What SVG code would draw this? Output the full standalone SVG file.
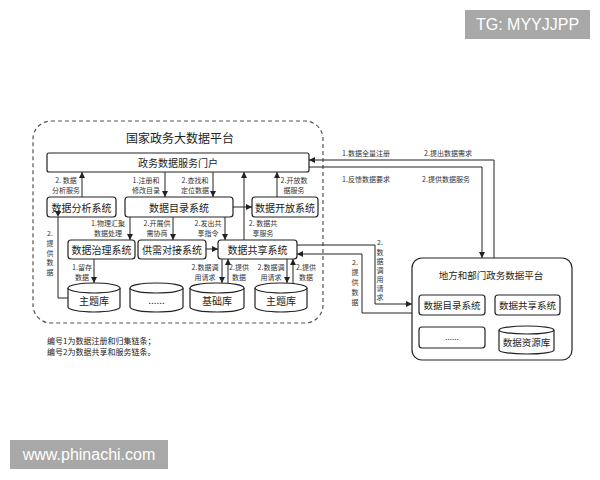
<svg xmlns="http://www.w3.org/2000/svg" width="600" height="480" viewBox="0 0 600 480">
<style>
.box{fill:#fff;stroke:#222;stroke-width:1.2}
.t{font-family:"Noto Sans CJK SC","Noto Sans",sans-serif;fill:#222;text-anchor:middle;dominant-baseline:central}
.bt{font-size:10px}
.lbl{font-size:7px;fill:#333}
.ln{fill:none;stroke:#222;stroke-width:1}
.cyl{fill:#fff;stroke:#222;stroke-width:1.2}
.wm{fill:#a8a8a8}
.wmt{font-family:"Liberation Sans",Arial,sans-serif;font-size:16px;fill:#fff;text-anchor:middle;dominant-baseline:central}
</style>
<defs>
<marker id="ar" markerUnits="userSpaceOnUse" markerWidth="6" markerHeight="6" refX="6" refY="3" orient="auto">
<path d="M0,0 L6,3 L0,6 z" fill="#222"/>
</marker>
</defs>
<rect width="600" height="480" fill="#fff"/>

<g id="national">
<rect x="33" y="121" width="290" height="202" rx="18" fill="none" stroke="#555" stroke-width="1.2" stroke-dasharray="4 3"/>
<text class="t" x="180" y="137" font-size="12">国家政务大数据平台</text>
</g>

<g id="portal"><rect class="box" x="47" y="153" width="262" height="19" rx="2"/><text class="t bt" x="178" y="162.5">政务数据服务门户</text></g>
<g id="analysis"><rect class="box" x="47" y="197" width="69" height="20" rx="3"/><text class="t bt" x="81.5" y="207">数据分析系统</text></g>
<g id="catalog"><rect class="box" x="125" y="197" width="108" height="20" rx="3"/><text class="t bt" x="179" y="207">数据目录系统</text></g>
<g id="open"><rect class="box" x="252" y="197" width="66" height="20" rx="3"/><text class="t bt" x="285" y="207">数据开放系统</text></g>
<g id="govern"><rect class="box" x="68" y="240" width="67" height="19" rx="3"/><text class="t bt" x="101.5" y="249.5">数据治理系统</text></g>
<g id="supply"><rect class="box" x="138" y="240" width="68" height="19" rx="3"/><text class="t bt" x="172" y="249.5">供需对接系统</text></g>
<g id="share"><rect class="box" x="218" y="240" width="79" height="19" rx="3"/><text class="t bt" x="257.5" y="249.5">数据共享系统</text></g>

<g id="db1"><path class="cyl" d="M68,288 V307 A26,5 0 0 0 120,307 V288"/><ellipse class="cyl" cx="94" cy="288" rx="26" ry="5"/><text class="t bt" x="94" y="300">主题库</text></g>
<g id="db2"><path class="cyl" d="M130,288 V307 A26.5,5 0 0 0 183,307 V288"/><ellipse class="cyl" cx="156.5" cy="288" rx="26.5" ry="5"/><text class="t bt" x="156.5" y="299">......</text></g>
<g id="db3"><path class="cyl" d="M190,288 V307 A27,5 0 0 0 244,307 V288"/><ellipse class="cyl" cx="217" cy="288" rx="27" ry="5"/><text class="t bt" x="217" y="300">基础库</text></g>
<g id="db4"><path class="cyl" d="M255,288 V307 A26,5 0 0 0 307,307 V288"/><ellipse class="cyl" cx="281" cy="288" rx="26" ry="5"/><text class="t bt" x="281" y="300">主题库</text></g>

<g id="local">
<rect class="box" x="412" y="258" width="160" height="102" rx="10"/>
<text class="t" x="491" y="275" font-size="9.5">地方和部门政务数据平台</text>
</g>
<g id="lcatalog"><rect class="box" x="419" y="295" width="66" height="20" rx="3"/><text class="t" font-size="9.5" x="452" y="305">数据目录系统</text></g>
<g id="lshare"><rect class="box" x="495" y="295" width="65" height="20" rx="3"/><text class="t" font-size="9.5" x="527.5" y="305">数据共享系统</text></g>
<g id="ldots"><rect class="box" x="419" y="327" width="66" height="21" rx="3"/><text class="t" font-size="8" x="452" y="336">......</text></g>
<g id="lres"><path class="cyl" d="M499,330 V350 A27.5,4 0 0 0 554,350 V330"/><ellipse class="cyl" cx="526.5" cy="330" rx="27.5" ry="4"/><text class="t" font-size="9.5" x="526.5" y="342">数据资源库</text></g>

<g id="connectors">
<path class="ln" d="M58,217 V298 H68" marker-start="url(#ar)"/>
<path class="ln" d="M82,197 V172" marker-end="url(#ar)"/>
<path class="ln" d="M165,172 V197" marker-end="url(#ar)"/>
<path class="ln" d="M213,172 V197" marker-end="url(#ar)"/>
<path class="ln" d="M244,240 V172" marker-end="url(#ar)"/>
<path class="ln" d="M233,207 H252" marker-end="url(#ar)"/>
<path class="ln" d="M277,197 V172" marker-end="url(#ar)"/>
<path class="ln" d="M130,217 V240" marker-end="url(#ar)"/>
<path class="ln" d="M173,217 V240" marker-end="url(#ar)"/>
<path class="ln" d="M225,217 V240" marker-end="url(#ar)"/>
<path class="ln" d="M206,249 H218" marker-end="url(#ar)"/>
<path class="ln" d="M94,259 V283" marker-end="url(#ar)"/>
<path class="ln" d="M222,259 V283" marker-end="url(#ar)"/>
<path class="ln" d="M228,283 V259" marker-end="url(#ar)"/>
<path class="ln" d="M287,259 V283" marker-end="url(#ar)"/>
<path class="ln" d="M293,283 V259" marker-end="url(#ar)"/>
<path class="ln" d="M494,258 V160 H309" marker-end="url(#ar)"/>
<path class="ln" d="M309,167 H482 V258" marker-end="url(#ar)"/>
<path class="ln" d="M297,245 H375 V304 H412" marker-end="url(#ar)"/>
<path class="ln" d="M412,313 H362 V254 H297" marker-end="url(#ar)"/>
</g>

<g id="labels">
<text class="t lbl" x="66" y="180">2. 数据</text><text class="t lbl" x="66" y="190">分析服务</text>
<text class="t lbl" x="146" y="180">1.注册和</text><text class="t lbl" x="146" y="190">修改目录</text>
<text class="t lbl" x="195" y="180">2.查找和</text><text class="t lbl" x="195" y="190">定位数据</text>
<text class="t lbl" x="294" y="180">2.开放数</text><text class="t lbl" x="294" y="190">据服务</text>
<text class="t lbl" x="108" y="223">1.物理汇聚</text><text class="t lbl" x="108" y="233">数据处理</text>
<text class="t lbl" x="157" y="223">2.开展供</text><text class="t lbl" x="157" y="233">需协商</text>
<text class="t lbl" x="208" y="223">2.发出共</text><text class="t lbl" x="208" y="233">享指令</text>
<text class="t lbl" x="263" y="223">2. 数据共</text><text class="t lbl" x="263" y="233">享服务</text>
<text class="t lbl" x="82" y="267">1.留存</text><text class="t lbl" x="82" y="277">数据</text>
<text class="t lbl" x="205" y="267">2.数据调</text><text class="t lbl" x="205" y="277">用请求</text>
<text class="t lbl" x="239" y="267">2.提供</text><text class="t lbl" x="239" y="277">数据</text>
<text class="t lbl" x="271" y="267">2.数据调</text><text class="t lbl" x="271" y="277">用请求</text>
<text class="t lbl" x="306" y="267">2.提供</text><text class="t lbl" x="306" y="277">数据</text>
<text class="t lbl" x="50" y="233">2.</text><text class="t lbl" x="50" y="243">提</text><text class="t lbl" x="50" y="252.5">供</text><text class="t lbl" x="50" y="262">数</text><text class="t lbl" x="50" y="271.5">据</text>
<text class="t lbl" x="366" y="153">1.数据全量注册</text><text class="t lbl" x="448" y="153">2.提出数据需求</text>
<text class="t lbl" x="366" y="179">1.反馈数据要求</text><text class="t lbl" x="446" y="179">2.提供数据服务</text>
<text class="t lbl" x="380" y="242">2.</text><text class="t lbl" x="380" y="252">数</text><text class="t lbl" x="380" y="261">据</text><text class="t lbl" x="380" y="270">调</text><text class="t lbl" x="380" y="279">用</text><text class="t lbl" x="380" y="288">请</text><text class="t lbl" x="380" y="297">求</text>
<text class="t lbl" x="355" y="262">2.</text><text class="t lbl" x="355" y="272">提</text><text class="t lbl" x="355" y="282">供</text><text class="t lbl" x="355" y="292">数</text><text class="t lbl" x="355" y="302">据</text>
</g>

<g id="legend">
<text class="t" font-size="8" x="47" y="340" style="text-anchor:start">编号1为数据注册和归集链条；</text>
<text class="t" font-size="8" x="47" y="351" style="text-anchor:start">编号2为数据共享和服务链条。</text>
</g>

<g id="watermarks">
<rect class="wm" x="465" y="10" width="125" height="29"/>
<text class="wmt" x="527.5" y="24.5">TG: MYYJJPP</text>
<rect class="wm" x="10" y="440" width="158" height="29"/>
<text class="wmt" x="89" y="454.5">www.phinachi.com</text>
</g>
</svg>
